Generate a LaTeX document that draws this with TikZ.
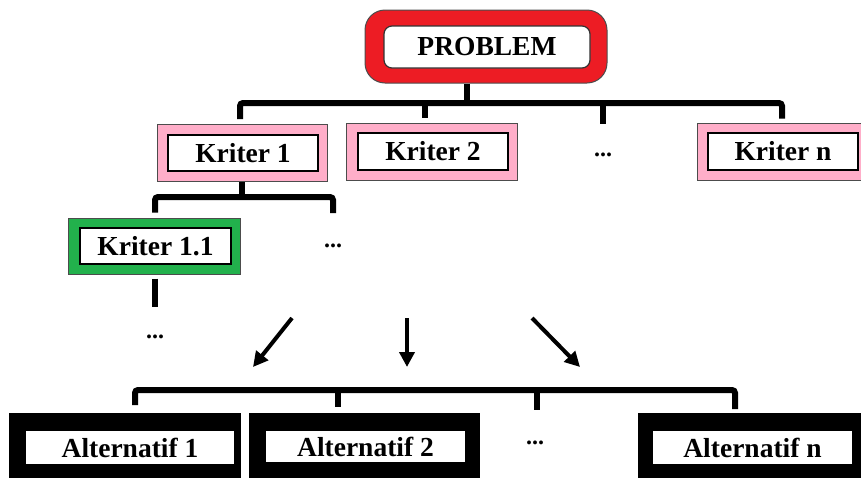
\documentclass[tikz,border=0pt]{standalone}
\usepackage{fontspec}
\setmainfont{Liberation Serif}
\usetikzlibrary{arrows.meta}
\definecolor{pred}{HTML}{ED1C24}
\definecolor{ppink}{HTML}{FFAEC9}
\definecolor{pgreen}{HTML}{22B14C}
\begin{document}
\begin{tikzpicture}[x=1pt,y=-1pt,
  every node/.style={inner sep=0pt, font=\bfseries\fontsize{27.5}{32}\selectfont},
  outerbox/.style={draw=black!70, line width=1pt},
  innerbox/.style={draw=black, line width=1.2pt, fill=white},
  pinkbox/.style={outerbox, fill=ppink, minimum width=170pt, minimum height=57pt},
  greenbox/.style={outerbox, fill=pgreen, minimum width=172pt, minimum height=56pt},
  altbox/.style={fill=black, minimum height=69pt},
  kritin/.style={innerbox, minimum width=150pt, minimum height=36pt},
  altin/.style={innerbox, minimum height=35pt},
  dotslabel/.style={anchor=base, font=\bfseries\fontsize{24}{28}\selectfont},
  conn/.style={line width=6pt, rounded corners=3pt},
  arr/.style={line width=4pt, -{Triangle[length=15pt,width=15pt]}}
]
\useasboundingbox (0,0) rectangle (861,477);
\clip (0,0) rectangle (861,477);

% PROBLEM
\node[outerbox, fill=pred, rounded corners=20pt, minimum width=242pt, minimum height=73pt] (Po) at (486,46.5) {};
\node[draw=black!80, line width=1.2pt, fill=white, rounded corners=8pt, minimum width=206pt, minimum height=42pt] (P) at (487,47) {PROBLEM};

% Kriter level
\node[pinkbox] (k1o) at (242,153) {};
\node[kritin] (k1) at (243,153) {Kriter 1};
\node[pinkbox, minimum width=171pt] (k2o) at (431.5,151.5) {};
\node[kritin, minimum height=37pt] (k2) at (433,151.5) {Kriter 2};
\node[dotslabel] (kd) at (603,156) {...};
\node[pinkbox] (kno) at (782,151.5) {};
\node[kritin, minimum height=37pt] (kn) at (783,151.5) {Kriter n};

% Kriter 1.1
\node[greenbox] (k11o) at (154,246) {};
\node[kritin, minimum width=151pt] (k11) at (155.5,246) {Kriter 1.1};
\node[dotslabel] (k1d) at (333,247) {...};
\node[dotslabel] (k11d) at (155,338) {...};

% Alternatives
\node[altbox, minimum width=232pt] (a1o) at (125,447.5) {};
\node[altin, minimum width=210pt] (a1) at (130,447.5) {Alternatif 1};
\node[altbox, minimum width=231pt, minimum height=67pt] (a2o) at (364.5,446.5) {};
\node[altin, minimum width=201pt, minimum height=33pt] (a2) at (365.5,446.5) {Alternatif 2};
\node[dotslabel] (ad) at (535,444) {...};
\node[altbox, minimum width=232pt] (ano) at (754,447.5) {};
\node[altin, minimum width=201pt] (an) at (752.5,447.5) {Alternatif n};

% top bracket
\coordinate (tb) at (467,103);
\coordinate (tl) at (240,103);
\coordinate (tr) at (782,103);
\coordinate (t2) at (425,103);
\coordinate (t3) at (603,103);
\draw[line width=6pt] (Po.south -| tb) -- (tb);
\draw[conn] ([yshift=5pt]k1o.north -| tl) -- (tl) -- (tr) -- ([yshift=4pt]kno.north -| tr);
\draw[line width=6pt] (t2) -- ([yshift=5pt]k2o.north -| t2);
\draw[line width=6pt] (t3) -- (603,124);

% Kriter 1 bracket
\coordinate (mb) at (242,197);
\coordinate (ml) at (155,197);
\coordinate (mr) at (333,197);
\draw[line width=6pt] (k1o.south -| mb) -- (mb);
\draw[conn] ([yshift=5pt]k11o.north -| ml) -- (ml) -- (mr) -- (333,213);
\draw[line width=6pt] (k11o.south -| ml) ++(0,4) -- (155,307);

% arrows
\coordinate (ar1s) at (292,318); \coordinate (ar1e) at (253,367);
\coordinate (ar2s) at (407,318); \coordinate (ar2e) at (407,367);
\coordinate (ar3s) at (532,318); \coordinate (ar3e) at (580,367);
\draw[arr] (ar1s) -- (ar1e);
\draw[arr] (ar2s) -- (ar2e);
\draw[arr] (ar3s) -- (ar3e);

% bottom bracket
\coordinate (bl) at (135,390);
\coordinate (br) at (735,390);
\coordinate (b2) at (338,390);
\coordinate (b3) at (537,390);
\draw[conn] (135,405) -- (bl) -- (br) -- (735,409);
\draw[line width=6pt] (b2) -- (338,407);
\draw[line width=6pt] (b3) -- (537,410);
\end{tikzpicture}
\end{document}
